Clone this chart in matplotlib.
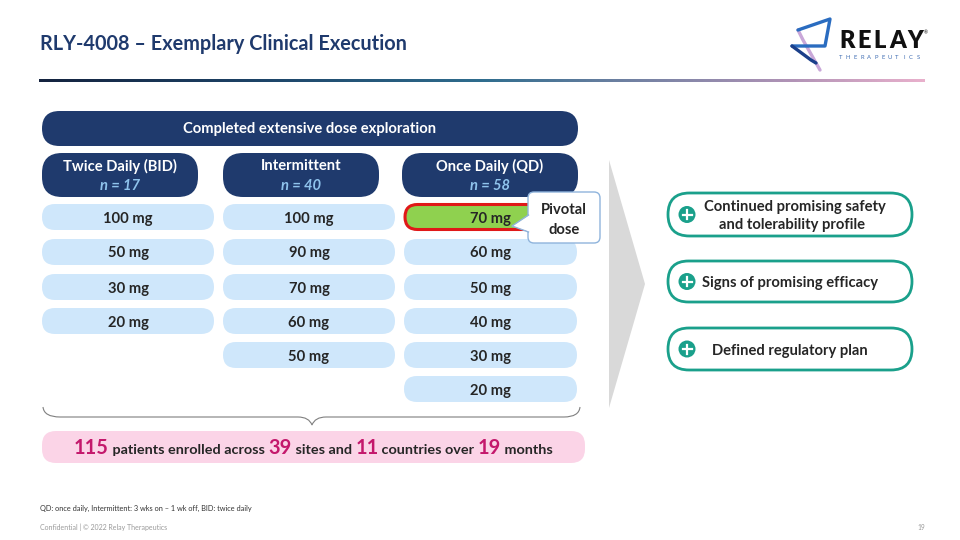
import matplotlib
matplotlib.use("Agg")
import matplotlib.pyplot as plt
from matplotlib.patches import FancyBboxPatch, Polygon, Circle, PathPatch
from matplotlib.path import Path
from matplotlib.colors import LinearSegmentedColormap
import numpy as np

# ---------------- data ----------------
title = "RLY-4008 \u2013 Exemplary Clinical Execution"
banner = "Completed extensive dose exploration"
regimens = ["Twice Daily (BID)", "Intermittent", "Once Daily (QD)"]
n_patients = [17, 40, 58]
bid_doses = ["100 mg", "50 mg", "30 mg", "20 mg"]
int_doses = ["100 mg", "90 mg", "70 mg", "60 mg", "50 mg"]
qd_doses = ["70 mg", "60 mg", "50 mg", "40 mg", "30 mg", "20 mg"]
pivotal_dose = "70 mg"
callout = ["Pivotal", "dose"]
outcomes = [["Continued promising safety", "and tolerability profile"],
            ["Signs of promising efficacy"],
            ["Defined regulatory plan"]]
summary_parts = [("115", True), (" patients enrolled across ", False), ("39", True),
                 (" sites and ", False), ("11", True), (" countries over ", False),
                 ("19", True), (" months", False)]
footnote = "QD: once daily, Intermittent: 3 wks on \u2013 1 wk off, BID: twice daily"
confidential = "Confidential | \u00a9 2022 Relay Therapeutics"
page_no = "19"

# ---------------- style ----------------
FONT = "Lato"
NAVY = "#1f3a6d"
PILL = "#cfe7fb"
NLIGHT = "#8fc3ec"
DARK = "#262626"
TEAL = "#1aa08b"
MAGENTA = "#c4186c"
PINK = "#fbd4e7"
FS = 10.6

fig = plt.figure(figsize=(9.6, 5.4), dpi=100)
ax = fig.add_axes([0, 0, 1, 1])
ax.set_xlim(0, 960)
ax.set_ylim(540, 0)
ax.axis("off")


def rbox(x0, y0, x1, y1, fc, ec="none", lw=0, r=None, z=2):
    h = y1 - y0
    if r is None:
        r = h / 2
    p = FancyBboxPatch((x0, y0), x1 - x0, h,
                       boxstyle=f"round,pad=0,rounding_size={r}",
                       fc=fc, ec=ec, lw=lw, zorder=z)
    ax.add_patch(p)
    return p


def label(x, y, s, **kw):
    opts = dict(fontsize=FS, fontweight="bold", color=DARK, family=FONT,
                ha="center", va="baseline", zorder=5)
    opts.update(kw)
    return ax.text(x, y, s, **opts)


# title
ax.text(40, 44.5, title, fontsize=14.3, fontweight="bold", color=NAVY,
        family=FONT, va="center", ha="left")

# gradient rule
cmap = LinearSegmentedColormap.from_list(
    "rule", [(0.0, "#14233f"), (0.25, "#1d4468"), (0.5, "#2f6d8e"),
             (0.65, "#6a7fa0"), (0.85, "#b193b6"), (1.0, "#e8b0cc")])
grad = np.linspace(0, 1, 400).reshape(1, -1)
ax.imshow(grad, extent=[39, 925, 79.8, 82.2], aspect="auto", cmap=cmap,
          interpolation="bilinear", zorder=2)
ax.set_xlim(0, 960)
ax.set_ylim(540, 0)

# logo icon
ax.plot([798, 830, 825, 792], [30, 19, 46, 46], color="#2a6cc0", lw=2.4, solid_capstyle="round", zorder=3)
ax.plot([792, 811, 816], [46, 60, 63], color="#1b3f8a", lw=2.4, solid_capstyle="round", zorder=3)
ax.plot([798, 803, 820], [30, 40, 70], color="#c9a7d8", lw=2.4, solid_capstyle="round", zorder=2)
for ch, cx in zip("RELAY", [847, 864, 880, 898, 915]):
    ax.text(cx, 41, ch, fontsize=17, fontweight="heavy", color="#111111", family=FONT,
            ha="center", va="center")
ax.text(926, 33, "\u00ae", fontsize=3.5, color="#111111", family=FONT, ha="center", va="center")
for i, ch in enumerate("THERAPEUTICS"):
    ax.text(841 + i * 7.0, 57.5, ch, fontsize=4.2, color="#3f6db3", family=FONT,
            ha="center", va="center")

# banner
rbox(42, 111, 578, 146, NAVY)
label(310, 133.5, banner, color="white")

# column headers
headers_x = [(42, 198), (223, 379), (402, 578)]
for (x0, x1), name, n in zip(headers_x, regimens, n_patients):
    rbox(x0, 153, x1, 197, NAVY, r=20)
    cx = (x0 + x1) / 2
    label(cx, 170.5, name, color="white")
    label(cx, 190.5, f"n = {n}", style="italic", color=NLIGHT)

# dose pills
row_y = [217, 252, 287, 321, 355, 389]
pill_x = [(42, 214), (223, 395), (404, 577)]
for (x0, x1), doses, col in zip(pill_x, [bid_doses, int_doses, qd_doses], range(3)):
    for i, d in enumerate(doses):
        y = row_y[i]
        if col == 2 and d == pivotal_dose:
            rbox(x0 + 1, y - 12.5, x1 - 1, y + 12.5, "#8fd14f", ec="#e01818", lw=2.2, z=3)
        else:
            rbox(x0, y - 13, x1, y + 13, PILL)
        label((x0 + x1) / 2, y + 5.5, d)

# callout
rbox(528, 192, 600, 243, "white", ec="#8fb4dc", lw=1.0, r=6, z=6)
tri = Polygon([(529.5, 215), (512, 226), (529.5, 232)], closed=True, fc="white", ec="none", zorder=7)
ax.add_patch(tri)
ax.plot([528.5, 512, 528.5], [215, 226, 232], color="#8fb4dc", lw=1.0, zorder=7)
label(564, 213.5, callout[0], zorder=8)
label(564, 234, callout[1], zorder=8)

# gray chevron
ax.add_patch(Polygon([(609, 160), (645, 284), (609, 408)], closed=True,
                     fc="#d9d9d9", ec="none", zorder=1))

# outcome boxes
out_y = [(193, 236), (261, 302), (328, 370)]
out_text_x = [795, 790, 790]
for (y0, y1), lines, tx in zip(out_y, outcomes, out_text_x):
    rbox(668, y0, 912, y1, "white", ec=TEAL, lw=2.0)
    cy = (y0 + y1) / 2
    ax.add_patch(Circle((687, cy), 8.5, fc=TEAL, ec="none", zorder=4))
    ax.plot([682.5, 691.5], [cy, cy], color="white", lw=1.6, zorder=5)
    ax.plot([687, 687], [cy - 4.5, cy + 4.5], color="white", lw=1.6, zorder=5)
    if len(lines) == 2:
        label(tx, cy - 4, lines[0])
        label(tx - 3, cy + 15, lines[1])
    else:
        label(tx, cy + 5.5, lines[0])

# brace
verts = [(43, 407), (44, 417), (60, 417),
         (298, 417),
         (309, 417), (312, 425),
         (315, 417), (326, 417),
         (564, 417),
         (579, 417), (580, 407)]
codes = [Path.MOVETO, Path.CURVE3, Path.CURVE3,
         Path.LINETO,
         Path.CURVE3, Path.CURVE3,
         Path.CURVE3, Path.CURVE3,
         Path.LINETO,
         Path.CURVE3, Path.CURVE3]
ax.add_patch(PathPatch(Path(verts, codes), fc="none", ec="#7f7f7f", lw=0.8, zorder=2))

# summary box
rbox(42, 431, 585, 463, PINK, r=14)
renderer = fig.canvas.get_renderer()
base_y = 453.5
items = []
total = 0
for txt, big in summary_parts:
    t = ax.text(0, base_y, txt.replace(" ", "\u00a0"),
                fontsize=14.3 if big else 10.35, fontweight="bold",
                color=MAGENTA if big else DARK, family=FONT,
                ha="left", va="baseline", zorder=5)
    w = t.get_window_extent(renderer).width
    items.append((t, w))
    total += w
x = 313.5 - total / 2
for t, w in items:
    t.set_x(x)
    x += w

# footer
ax.text(40, 508, footnote, fontsize=5.3, color="#333333", family=FONT, ha="left", va="center")
ax.text(40, 527, confidential, fontsize=5.0, color="#9a9a9a", family=FONT, ha="left", va="center")
ax.text(925, 527, page_no, fontsize=4.8, color="#9a9a9a", family=FONT, ha="right", va="center")

fig.savefig("out.png", dpi=100)
